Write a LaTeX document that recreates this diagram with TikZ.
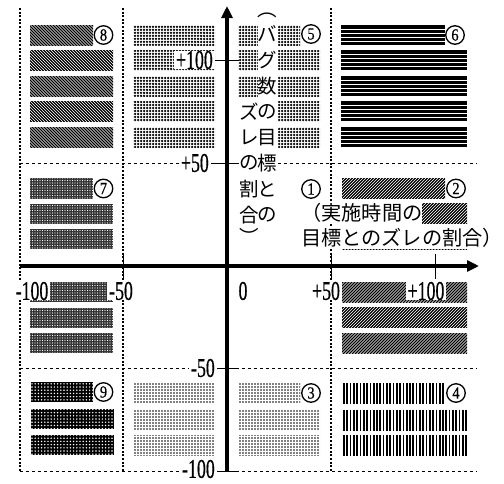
\documentclass[tikz,border=0pt]{standalone}
\usepackage{fontspec}
\usepackage{graphicx}
\usetikzlibrary{patterns.meta,arrows.meta}
\newfontfamily\serifnum{Liberation Serif}[FakeBold=0.6]
\newfontfamily\jpfont{Noto Sans CJK JP}
\newcommand\axn[1]{\scalebox{0.66}[1]{#1}}
\newcommand\cirn[1]{\scalebox{0.85}[1]{#1}}
% striped bars drawn explicitly: x1,y1,x2,y2
\newcommand\stripesNE[4]{\begin{scope}\clip (#1,#2) rectangle (#3,#4);
  \pgfmathtruncatemacro\nn{(#3-#1+26)/3}
  \foreach \k in {0,...,\nn} \draw[line width=1.25pt] ({#1-23+3*\k},#4+1) -- ++(24,-24);
  \end{scope}}
\newcommand\stripesNW[4]{\begin{scope}\clip (#1,#2) rectangle (#3,#4);
  \pgfmathtruncatemacro\nn{(#3-#1+26)/3}
  \foreach \k in {0,...,\nn} \draw[line width=1.25pt] ({#1-23+3*\k},#2-1) -- ++(24,24);
  \end{scope}}
\newcommand\stripesH[4]{\fill[black] (#1,#2) rectangle (#3,#4);
  \foreach \k in {0,...,3} \draw[white,line width=1pt] (#1,{#2+4.5+4*\k}) -- (#3,{#2+4.5+4*\k});}
\newcommand\stripesV[4]{\begin{scope}\clip (#1,#2) rectangle (#3,#4);
  \pgfmathtruncatemacro\nn{(#3-#1)/3.3}
  \foreach \k in {0,...,\nn} \draw[line width=1.7pt] ({#1+1+3.3*\k},#2) -- ({#1+1+3.3*\k},#4);
  \end{scope}}
\tikzset{
  patC/.style={pattern={Dots[radius=1.25pt,distance=3pt]}},
  patE/.style={fill=black!80,postaction={pattern={Dots[radius=0.6pt,distance=2.5pt]},pattern color=white}},
  patF/.style={fill=black,postaction={pattern={Dots[radius=0.8pt,distance=3.2pt]},pattern color=white}},
  patG/.style={pattern={Dots[radius=0.8pt,distance=3pt]}},
  vdash/.style={line width=1.1pt,dash pattern=on 2pt off 1.6pt},
  hdash/.style={line width=1pt,dash pattern=on 3pt off 3pt},
  numc/.style={circle,draw,line width=1.3pt,fill=white,minimum size=18.5pt,inner sep=0pt,
    font=\serifnum\fontsize{17}{17}\selectfont},
  axl/.style={fill=white,inner xsep=2pt,inner ysep=0pt,font=\serifnum\fontsize{27}{27}\selectfont},
  jpc/.style={inner sep=0pt,font=\jpfont\fontsize{19.5}{19.5}\selectfont},
  jpl/.style={fill=white,inner xsep=0pt,inner ysep=1.5pt,anchor=west,font=\jpfont\fontsize{20.2}{20.2}\selectfont},
  tickline/.style={line width=0.9pt},
  axisline/.style={line width=4pt,-{Triangle[length=12pt,width=11pt]}}
}
\begin{document}
\begin{tikzpicture}[x=1pt,y=-1pt]
\useasboundingbox (0,0) rectangle (504,483);
\fill[white] (0,0) rectangle (504,483);
% region 8
\stripesNW{30}{25}{93}{45}
\foreach \y in {50.5,76,101.5,127} {\stripesNW{30}{\y}{113}{\y+20}}
% region 5
\foreach \y in {25,50.5,76,101.5,127} \path[patC] (133,\y) rectangle (215,\y+20);
\path[patC] (238,25) rectangle (300,45);
\foreach \y in {50.5,76,101.5,127} \path[patC] (238,\y) rectangle (320,\y+20);
% region 6
\stripesH{341}{25}{445}{45}
\foreach \y in {50,76,101,127} {\stripesH{341}{\y}{467}{\y+20}}
% region 7
\path[patE] (30,178) rectangle (93,198.5);
\foreach \y in {203.5,229,282,307.5,333} \path[patE] (30,\y) rectangle (113,\y+20);
% region 2
\stripesNE{342}{178}{445}{198.5}
\foreach \y in {203.5,229,282,307.5,333} {\stripesNE{342}{\y}{467}{\y+20}}
% region 9
\path[patF] (31,382) rectangle (93,402);
\foreach \y in {409,435} \path[patF] (31,\y) rectangle (114,\y+20);
% region 3
\foreach \y in {383,409.5,435} \path[patG] (133,\y) rectangle (215,\y+20);
\path[patG] (238,383) rectangle (300,403);
\foreach \y in {409.5,435} \path[patG] (238,\y) rectangle (320,\y+20);
% region 4
\stripesV{343}{383}{445}{404}
\foreach \y in {409.5,435} {\stripesV{343}{\y}{467}{\y+21}}
% grid lines
\draw[vdash] (20,8) -- (20,471);
\draw[vdash] (123,8) -- (123,471);
\draw[vdash] (331,8) -- (331,471);
\draw[hdash] (20,163) -- (477,163);
\draw[hdash] (20,368) -- (477,368);
\draw[hdash] (20,471) -- (477,471);
% circled numbers
\node[numc] (n1) at (311,189) {\cirn{1}};
\node[numc] (n2) at (456,188.5) {\cirn{2}};
\node[numc] (n3) at (311,393) {\cirn{3}};
\node[numc] (n4) at (456,393) {\cirn{4}};
\node[numc] (n5) at (311,34) {\cirn{5}};
\node[numc] (n6) at (455,35) {\cirn{6}};
\node[numc] (n7) at (103.5,188.5) {\cirn{7}};
\node[numc] (n8) at (103.5,35) {\cirn{8}};
\node[numc] (n9) at (103.5,392) {\cirn{9}};
% axis numbers
\node[axl,anchor=east] (yp100) at (215,60) {\axn{+100}};
\node[axl,anchor=east] (yp50) at (211,163) {\axn{+50}};
\node[axl,anchor=east] (ym50) at (217,368) {\axn{-50}};
\node[axl,anchor=east] (ym100) at (217,469) {\axn{-100}};
\node[axl] (xm100) at (32,291) {\axn{-100}};
\node[axl] (xm50) at (121,291) {\axn{-50}};
\node[axl] (x0) at (243,291) {\axn{0}};
\node[axl] (xp50) at (326,291) {\axn{+50}};
\node[axl] (xp100) at (426,291) {\axn{+100}};
% vertical axis title (white ground behind the two columns)
\fill[white] (257.5,23) rectangle (277.5,226);
\fill[white] (236,100) rectangle (258,250);
\foreach \c/\yy [count=\k] in {ズ/112,レ/137.5,の/163,割/189,合/215,︶/236}
  \node[jpc] (vl\k) at (249,\yy) {\c};
\foreach \c/\yy [count=\k] in {︵/15,バ/34,グ/60,数/86,の/112,目/137.5,標/163,と/189,の/215}
  \node[jpc] (vr\k) at (267,\yy) {\c};
% horizontal axis title
\node[jpl] (ht1) at (301,213) {（実施時間の};
\node[jpl] (ht2) at (301,238) {目標とのズレの割合）};
% ticks
\draw[tickline] (215,60) -- (239,60);
\draw[tickline] (211,163) -- (239,163);
\draw[tickline] (217,368) -- (239,368);
\draw[tickline] (217,471) -- (239,471);
\draw[tickline] (123,254) -- (123,279);
\draw[tickline] (331,254) -- (331,279);
\draw[tickline] (435,254) -- (435,279);
% axes
\coordinate (vb) at (227,472);
\coordinate (vt) at (227,6);
\coordinate (hl) at (20,266);
\coordinate (hr) at (479,266);
\draw[axisline] (vb) -- (vt);
\draw[axisline] (hl) -- (hr);
\end{tikzpicture}
\end{document}
